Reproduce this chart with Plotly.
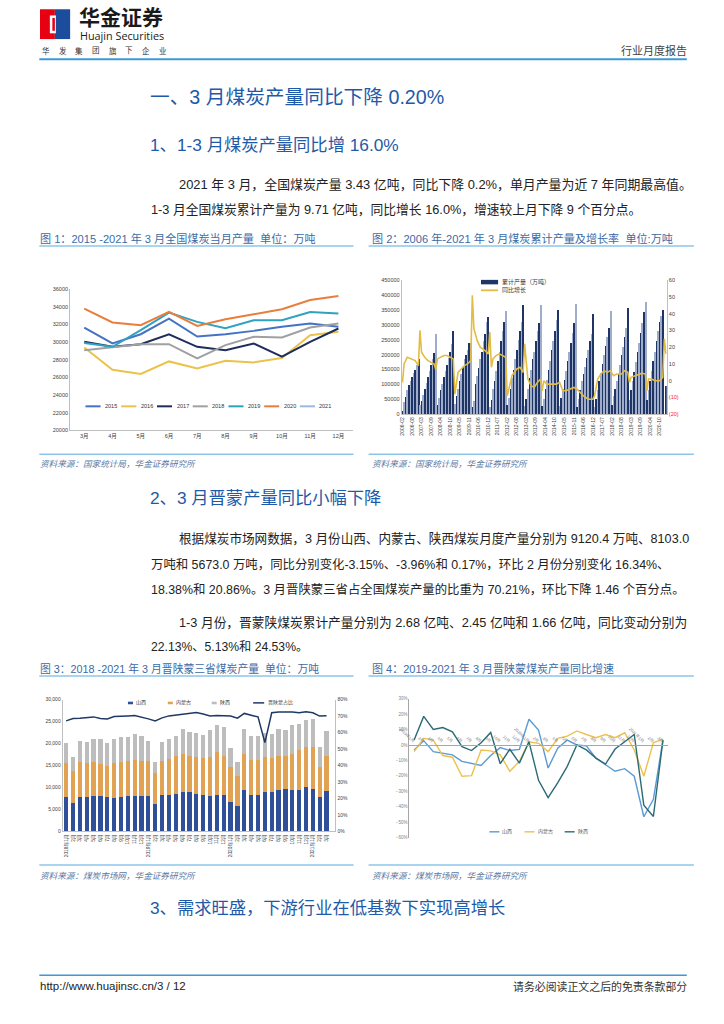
import plotly.graph_objects as go

W, H = 724, 1024
# page-pixel -> paper coordinates (small calibration for the capture geometry)
def fx(x): return (x - 11.8) / 0.981 / W
def fy(y): return 1 - (y - 2.0) / H

CJK = "Liberation Sans, Noto Sans CJK SC, sans-serif"
HEAD_BLUE = "#1F5AA8"
TITLE_BLUE = "#3B6BA5"
SRC_BLUE = "#5B7BA6"
RULE_BLUE = "#8CC4EA"

# ---------------- Chart 1 data: monthly national coal output (万吨)
months1 = ["3月", "4月", "5月", "6月", "7月", "8月", "9月", "10月", "11月", "12月"]
y2015 = [31660, 29850, 30900, 32680, 30640, 30900, 31280, 31740, 32110, 31740]
y2016 = [29400, 26870, 26380, 27810, 27020, 27890, 27700, 28190, 30790, 31170]
y2017 = [30040, 29470, 29770, 30900, 29470, 29090, 29850, 28340, 30040, 31550]
y2018 = [29090, 29400, 29770, 29770, 28150, 29660, 30600, 30530, 31660, 32110]
y2019 = [29890, 29470, 31360, 33360, 32300, 31580, 32490, 32490, 33430, 33250]
y2020 = [33810, 32230, 31920, 33430, 31850, 32600, 33170, 33740, 34790, 35250]
y2021 = [34300]
names1 = ["2015", "2016", "2017", "2018", "2019", "2020", "2021"]
colors1 = ["#4472C4", "#EBC24A", "#1F2D5C", "#A0A0A0", "#2FA2BF", "#EB7D3C", "#9DB7E0"]

# ---------------- Chart 2 data: cumulative output (万吨) and YoY growth (%)
cum_2006 = [12000, 40000, 58000, 80000, 98000, 112000, 125000, 140000, 150000, 165000, 185000]
cum_2007 = [30000, 45000, 65000, 85000, 105000, 125000, 145000, 165000, 185000, 205000, 270000]
cum_2008 = [30000, 55000, 80000, 100000, 125000, 145000, 165000, 190000, 210000, 235000, 278000]
cum_2009 = [35000, 60000, 85000, 110000, 135000, 160000, 185000, 200000, 215000, 240000, 240000]
cum_2010 = [25000, 45000, 100000, 130000, 155000, 185000, 210000, 245000, 270000, 310000, 325000]
cum_2011 = [25000, 48000, 85000, 110000, 145000, 180000, 210000, 245000, 280000, 310000, 345000]
cum_2012 = [30000, 55000, 85000, 120000, 150000, 185000, 215000, 250000, 280000, 310000, 365000]
cum_2013 = [28000, 52000, 85000, 120000, 150000, 185000, 210000, 245000, 278000, 305000, 368000]
cum_2014 = [28000, 52000, 85000, 115000, 150000, 180000, 215000, 245000, 280000, 315000, 350000]
cum_2015 = [28000, 55000, 85000, 115000, 145000, 180000, 210000, 240000, 272000, 305000, 370000]
cum_2016 = [25000, 50000, 80000, 110000, 135000, 160000, 190000, 215000, 245000, 270000, 335000]
cum_2017 = [25000, 50000, 80000, 110000, 140000, 170000, 200000, 230000, 258000, 290000, 345000]
cum_2018 = [30000, 60000, 85000, 110000, 135000, 165000, 200000, 225000, 260000, 290000, 355000]
cum_2019 = [48000, 80000, 110000, 142000, 175000, 208000, 240000, 272000, 305000, 342000, 375000]
cum_2020 = [48000, 80000, 110000, 145000, 180000, 210000, 245000, 280000, 310000, 330000, 348000]
cum_2021 = [None, 95000]
cum_years = [2006, 2007, 2008, 2009, 2010, 2011, 2012, 2013, 2014, 2015, 2016, 2017, 2018, 2019, 2020, 2021]
cum_lists = [cum_2006, cum_2007, cum_2008, cum_2009, cum_2010, cum_2011, cum_2012, cum_2013,
             cum_2014, cum_2015, cum_2016, cum_2017, cum_2018, cum_2019, cum_2020, cum_2021]

growth_x = ["2006-02", "2006-03", "2006-05", "2006-08", "2006-10", "2006-12",
            "2007-02", "2007-03", "2007-05", "2007-07", "2007-09", "2007-11", "2007-12",
            "2008-02", "2008-06", "2008-08", "2008-10", "2008-12",
            "2009-02", "2009-04", "2009-06", "2009-08", "2009-10", "2009-12",
            "2010-02", "2010-03", "2010-05", "2010-07", "2010-10", "2010-12",
            "2011-02", "2011-03", "2011-04", "2011-06", "2011-08", "2011-10", "2011-12",
            "2012-02", "2012-05", "2012-08", "2012-10", "2012-12",
            "2013-02", "2013-03", "2013-04", "2013-06", "2013-08", "2013-10", "2013-12",
            "2014-02", "2014-03", "2014-05", "2014-08", "2014-11",
            "2015-02", "2015-04", "2015-06", "2015-09", "2015-11",
            "2016-02", "2016-04", "2016-06", "2016-09", "2016-12",
            "2017-02", "2017-04", "2017-06", "2017-08", "2017-10", "2017-12",
            "2018-03", "2018-05", "2018-08", "2018-10", "2018-12",
            "2019-02", "2019-03", "2019-06", "2019-08", "2019-10", "2019-12",
            "2020-02", "2020-03", "2020-05", "2020-07", "2020-10", "2020-12",
            "2021-02", "2021-03"]
growth_y = [-1, 10, 14, 13, 12, 9,
            30, 17, 14, 12, 11, 10, 6.5,
            13, 15, 15, 14, 13,
            -8, 5, 7, 9, 10, 12,
            51, 31, 24, 20, 18, 16,
            29, 8, 13, 15, 16, 15, 14,
            -9, 3, 7, 8, 5,
            22, 11, 1, -3, -4, -1, 1,
            -6, 0, -2, -2, -2,
            -1, -6, -6, -5, -4,
            -5, -7, -9, -11, -11,
            -9, 1, 4, 6, 5, 6,
            3, 4, 4, 6, 5,
            -1, 2, 3, 4, 4.5, 4,
            -6, 1, 1, 0, 0, 2,
            25, 16]

# ---------------- Chart 3 data: Shanxi / Inner Mongolia / Shaanxi output (万吨), share (%)
months3 = ["2018-01", "2018-02", "2018-03", "2018-04", "2018-05", "2018-06", "2018-07", "2018-08",
           "2018-09", "2018-10", "2018-11", "2018-12", "2019-01", "2019-02", "2019-03", "2019-04",
           "2019-05", "2019-06", "2019-07", "2019-08", "2019-09", "2019-10", "2019-11", "2019-12",
           "2020-01", "2020-02", "2020-03", "2020-04", "2020-05", "2020-06", "2020-07", "2020-08",
           "2020-09", "2020-10", "2020-11", "2020-12", "2021-01", "2021-02", "2021-03"]
shanxi = [7760, 6480, 7760, 7760, 7990, 7990, 7760, 7610, 7840, 7990, 7990, 7990, 7990, 6330,
          8220, 8220, 8590, 8890, 8890, 8590, 8370, 7990, 8220, 8370, 6630, 5880, 9350, 8370,
          8220, 8890, 8890, 9350, 9650, 9500, 9500, 10030, 9720, 7760, 9120]
neimenggu = [7770, 7310, 8140, 7770, 7910, 7310, 7170, 8070, 7910, 8140, 8290, 8140, 8140, 6940,
             7910, 8210, 8600, 8670, 8370, 8300, 8290, 8900, 9950, 8890, 7920, 6780, 8290, 7910,
             8060, 8000, 7770, 7910, 7610, 8140, 9040, 9270, 9580, 6790, 8103]
shaanxi = [4520, 3100, 4750, 4750, 5130, 5660, 5120, 5350, 5810, 5430, 5960, 5660, 4520, 2630,
           4150, 4530, 4600, 5660, 5430, 5420, 5280, 6180, 6030, 6410, 4520, 3240, 5650, 5430,
           5430, 5420, 5500, 5960, 5810, 6560, 5880, 6030, 6180, 4750, 5673]
share3 = [67.1, 68.5, 68.7, 68.9, 69.5, 68.5, 68.3, 69.7, 70.1, 70.1, 70.3, 69.5, 68.3, 67.1,
          68.9, 70.1, 70.7, 71.4, 71.6, 72.2, 71.2, 70.1, 70.3, 70.1, 70.0, 68.7, 71.6, 70.5,
          69.5, 53.9, 72.0, 72.4, 72.6, 72.4, 72.0, 72.6, 72.0, 70.0, 70.2]

# ---------------- Chart 4 data: YoY growth (%)
months4 = months3[12:]
sx_yoy = [-3.2, 2.8, -4.3, -5.3, -6.4, -10.6, -11.7, -13.2, -6.8, -1.7, -3.6, -2.8, 16.6, 9.6,
          -14.9, -2.1, 3.2, 0, -0.6, -8.5, -12.8, -17, -15.3, -20.2, -46.4, -35.1, 3.2]
nm_yoy = [-4.3, 4.3, 3.2, -6.8, -7.9, -20.2, -19.8, -3.2, -3.8, -6.4, -17, -10.6, 2.1, 1.1,
          -4.3, 4.3, 5.7, 9.1, 6.8, 4.7, 6.8, 4.7, 7.9, -3.2, -20.2, 1.5, 3.6]
shx_yoy = [3.2, 18.5, 10, 11.3, 8.5, -1.1, -3.6, 1.5, 8.1, -12.1, -2.8, -11.7, 2.1, -22.8,
           -34, -24.5, -13.8, 0, -3.2, -8.5, -12.3, -2.6, 2.1, 6.8, -38.9, -46.2, 3.2]

fig = go.Figure()

# ---- chart 1 traces
for name, vals, col in zip(names1, [y2015, y2016, y2017, y2018, y2019, y2020, y2021], colors1):
    fig.add_trace(go.Scatter(x=months1[:len(vals)], y=vals, mode="lines", name=name,
                             line=dict(color=col, width=2), showlegend=False,
                             xaxis="x", yaxis="y"))

# ---- chart 2 traces
cats2, vals2 = [], []
for yr, lst in zip(cum_years, cum_lists):
    for k, v in enumerate(lst):
        cats2.append(f"{yr}-{k + 2:02d}")
        vals2.append(v)
bar_cols2 = ["#1F3566" if i % 2 == 0 else "#9FADCB" for i in range(len(cats2))]
fig.add_trace(go.Bar(x=cats2, y=vals2, marker=dict(color=bar_cols2, line_width=0), width=0.75,
                     name="累计产量（万吨）", showlegend=False, xaxis="x2", yaxis="y2"))
fig.add_trace(go.Scatter(x=growth_x, y=growth_y, mode="lines", name="同比增长",
                         line=dict(color="#E2BC45", width=1.6), showlegend=False,
                         xaxis="x2", yaxis="y3"))

# ---- chart 3 traces
ticks3 = [f"{m[:4]}年{int(m[5:])}月" if m.endswith("-01") else f"{int(m[5:])}月" for m in months3]
fig.add_trace(go.Bar(x=months3, y=shanxi, name="山西", marker=dict(color="#2F4F98", line_width=0),
                     width=0.62, showlegend=False, xaxis="x3", yaxis="y4"))
fig.add_trace(go.Bar(x=months3, y=neimenggu, name="内蒙古", marker=dict(color="#E2A253", line_width=0),
                     width=0.62, showlegend=False, xaxis="x3", yaxis="y4"))
fig.add_trace(go.Bar(x=months3, y=shaanxi, name="陕西", marker=dict(color="#BDBDBD", line_width=0),
                     width=0.62, showlegend=False, xaxis="x3", yaxis="y4"))
fig.add_trace(go.Scatter(x=months3, y=share3, mode="lines", name="晋陕蒙占比",
                         line=dict(color="#1F3864", width=1.5), showlegend=False,
                         xaxis="x3", yaxis="y5"))

# ---- chart 4 traces
ticks4 = [f"{m[:4]}年{int(m[5:])}月" if m.endswith("-01") else f"{int(m[5:])}月" for m in months4]
for name, vals, col in [("山西", sx_yoy, "#5B9BD5"), ("内蒙古", nm_yoy, "#EDC14F"), ("陕西", shx_yoy, "#2B6B74")]:
    fig.add_trace(go.Scatter(x=months4, y=vals, mode="lines", name=name,
                             line=dict(color=col, width=1.4), showlegend=False,
                             xaxis="x4", yaxis="y6"))

AX = dict(showgrid=False, zeroline=False, showline=True, linecolor="#BFBFBF", linewidth=1,
          ticks="", tickfont=dict(size=5.5, color="#404040", family=CJK))

d4 = [fy(841.7), fy(701.7)]
pos4 = d4[0] + (60 / 90) * (d4[1] - d4[0])

fig.update_layout(
    width=W, height=H, margin=dict(l=0, r=0, t=0, b=0),
    paper_bgcolor="white", plot_bgcolor="white", barmode="stack", showlegend=False,
    font=dict(family=CJK),
    xaxis=dict(AX, domain=[fx(70.7), fx(352)], anchor="y", type="category", range=[-0.5, 9.5]),
    yaxis=dict(AX, domain=[fy(431.7), fy(290)], anchor="x", range=[20000, 36000], dtick=2000,
               tickformat="d"),
    xaxis2=dict(AX, domain=[fx(401), fx(665)], anchor="y2", type="category",
                range=[-0.5, len(cats2) - 0.5], tickangle=-90, tickvals=cats2[::6],
                tickfont=dict(size=5, color="#404040")),
    yaxis2=dict(AX, domain=[fy(415.7), fy(280.7)], anchor="x2", range=[0, 450000], dtick=50000,
                tickformat="d"),
    yaxis3=dict(AX, overlaying="y2", side="right", anchor="x2", range=[-20, 60],
                tickvals=[-20, -10, 0, 10, 20, 30, 40, 50, 60],
                ticktext=['<span style="color:#FF2020">(20)</span>', '<span style="color:#FF2020">(10)</span>',
                          "0", "10", "20", "30", "40", "50", "60"]),
    xaxis3=dict(AX, domain=[fx(63.3), fx(335)], anchor="y4", type="category", range=[-0.5, 39.3],
                tickvals=months3, ticktext=ticks3, tickangle=-90,
                tickfont=dict(size=4.8, color="#404040")),
    yaxis4=dict(AX, domain=[fy(835.3), fy(702.7)], anchor="x3", range=[0, 30000], dtick=5000,
                tickformat=",", tickfont=dict(size=5, color="#404040")),
    yaxis5=dict(AX, overlaying="y4", side="right", anchor="x3", range=[0, 80], dtick=10,
                ticksuffix="%", tickfont=dict(size=5, color="#404040")),
    xaxis4=dict(AX, domain=[fx(408.6), fx(666)], anchor="free", position=pos4, side="top",
                type="category", range=[-0.5, 26.5], tickvals=months4, ticktext=ticks4,
                tickangle=45, linecolor="#A6A6A6", tickfont=dict(size=4, color="#7F7F7F")),
    yaxis6=dict(AX, domain=d4, anchor="x4", range=[-60, 30], dtick=10, ticksuffix="%",
                linecolor="#A6A6A6", tickfont=dict(size=4.5, color="#7F7F7F")),
)

shapes = []
def hline(x0, x1, y, color, width):
    shapes.append(dict(type="line", xref="paper", yref="paper", x0=fx(x0), x1=fx(x1),
                       y0=fy(y), y1=fy(y), line=dict(color=color, width=width)))
def rect(x0, x1, y0, y1, color):
    shapes.append(dict(type="rect", xref="paper", yref="paper", x0=fx(x0), x1=fx(x1),
                       y0=fy(y1), y1=fy(y0), fillcolor=color, line=dict(width=0)))

def txt(x, y, s, size, color="#222222", xanchor="left", family=CJK, bold=False, italic=False):
    fig.add_annotation(x=fx(x), y=fy(y), xref="paper", yref="paper", text=s, showarrow=False,
                       xanchor=xanchor, yanchor="middle", borderpad=0,
                       font=dict(size=size, color=color, family=family,
                                 weight="bold" if bold else "normal",
                                 style="italic" if italic else "normal"))

# ---- header
rect(40.7, 55.5, 8.3, 38.3, "#E60012")
rect(55.5, 70.7, 8.3, 38.3, "#1C4C9C")
rect(50.5, 56.5, 14.5, 32.5, "white")
rect(53.0, 55.5, 17.0, 30.0, "#E60012")
txt(79, 16.5, "华金证券", 21, color="#1A1A1A", bold=True)
txt(80, 34.5, "Huajin Securities", 10.8, color="#1A1A1A", family="Open Sans, Liberation Sans")
for i, ch in enumerate("华发集团旗下企业"):
    txt(41.7 + i * 16.6, 49.8, ch, 7.5, color="#333333")
txt(686, 49.5, "行业月度报告", 11, color="#444444", xanchor="right")
hline(40, 685, 58.5, "#3C9AD8", 2)

# ---- headings & paragraphs
txt(149, 97, "一、3 月煤炭产量同比下降 0.20%", 19.7, color=HEAD_BLUE)
txt(149, 145, "1、1-3 月煤炭产量同比增 16.0%", 17.3, color=HEAD_BLUE)
txt(178, 185, "2021 年 3 月，全国煤炭产量 3.43 亿吨，同比下降 0.2%，单月产量为近 7 年同期最高值。", 12.9)
txt(150, 210, "1-3 月全国煤炭累计产量为 9.71 亿吨，同比增长 16.0%，增速较上月下降 9 个百分点。", 12.75)

txt(40, 238.5, "图 1：2015 -2021 年 3 月全国煤炭当月产量  单位：万吨", 11.1, color=TITLE_BLUE)
txt(370, 238.5, "图 2：2006 年-2021 年 3 月煤炭累计产量及增长率  单位:万吨", 11.1, color=TITLE_BLUE)
hline(40, 353, 246.5, RULE_BLUE, 1.5)
hline(368, 692, 246.5, RULE_BLUE, 1.5)
hline(40, 353, 456, RULE_BLUE, 1.5)
hline(368, 692, 456, RULE_BLUE, 1.5)
txt(40, 466, "资料来源：国家统计局，华金证券研究所", 8.6, color=SRC_BLUE, italic=True)
txt(370, 466, "资料来源：国家统计局，华金证券研究所", 8.6, color=SRC_BLUE, italic=True)

txt(149, 500, "2、3 月晋蒙产量同比小幅下降", 17.3, color=HEAD_BLUE)
txt(178, 541, "根据煤炭市场网数据，3 月份山西、内蒙古、陕西煤炭月度产量分别为 9120.4 万吨、8103.0", 12.6)
txt(150, 567, "万吨和 5673.0 万吨，同比分别变化-3.15%、-3.96%和 0.17%，环比 2 月份分别变化 16.34%、", 12.4)
txt(150, 592, "18.38%和 20.86%。3 月晋陕蒙三省占全国煤炭产量的比重为 70.21%，环比下降 1.46 个百分点。", 12.4)
txt(178, 625, "1-3 月份，晋蒙陕煤炭累计产量分别为 2.68 亿吨、2.45 亿吨和 1.66 亿吨，同比变动分别为", 12.72)
txt(150, 650, "22.13%、5.13%和 24.53%。", 12.2)

txt(40, 671, "图 3：2018 -2021 年 3 月晋陕蒙三省煤炭产量  单位：万吨", 10.8, color=TITLE_BLUE)
txt(370, 671, "图 4：2019-2021 年 3 月晋陕蒙煤炭产量同比增速", 11.0, color=TITLE_BLUE)
hline(40, 353, 679, RULE_BLUE, 1.5)
hline(368, 692, 679, RULE_BLUE, 1.5)
hline(40, 353, 869, RULE_BLUE, 1.5)
hline(368, 692, 869, RULE_BLUE, 1.5)
txt(40, 880, "资料来源：煤炭市场网，华金证券研究所", 8.6, color=SRC_BLUE, italic=True)
txt(370, 880, "资料来源：煤炭市场网，华金证券研究所", 8.6, color=SRC_BLUE, italic=True)

txt(149, 912, "3、需求旺盛，下游行业在低基数下实现高增长", 17.3, color=HEAD_BLUE)

# ---- footer
hline(40, 685, 980, "#3C9AD8", 1.5)
txt(40, 991, "http://www.huajinsc.cn/3 / 12", 11.5, family="Liberation Sans, Arial")
txt(686, 991, "请务必阅读正文之后的免责条款部分", 10.9, color="#333333", xanchor="right")

# ---- legends (keys drawn as shapes, labels as text)
for i, (name, col) in enumerate(zip(names1, colors1)):
    x0 = 86 + 35.6 * i
    hline(x0, x0 + 15, 407.7, col, 2)
    txt(x0 + 18.5, 407.7, name, 5.5, color="#333333")

rect(480, 497, 280.5, 285, "#1F3566")
txt(500, 283, "累计产量（万吨）", 6, color="#333333")
hline(480, 497, 291, "#E2BC45", 1.8)
txt(500, 291, "同比增长", 6, color="#333333")

for x0, name, col in [(128.3, "山西", "#2F4F98"), (168, "内蒙古", "#E2A253"), (211.7, "陕西", "#BDBDBD")]:
    rect(x0, x0 + 5, 704.8, 707.4, col)
    txt(x0 + 7.5, 706, name, 5, color="#333333")
hline(253, 264, 706, "#1F3864", 1.5)
txt(266.5, 706, "晋陕蒙占比", 5, color="#333333")

for x0, name, col in [(488.3, "山西", "#5B9BD5"), (523.3, "内蒙古", "#EDC14F"), (563.3, "陕西", "#2B6B74")]:
    hline(x0, x0 + 10, 835.7, col, 1.4)
    txt(x0 + 12, 835.7, name, 5, color="#555555")

fig.update_layout(shapes=shapes)
post = ("document.documentElement.style.margin='0';document.documentElement.style.overflow='hidden';"
        "document.body.style.margin='0';document.body.style.padding='0';document.body.style.overflow='hidden';"
        "var gd=document.getElementById('{plot_id}');gd.style.position='absolute';gd.style.left='0px';gd.style.top='0px';")
fig.write_html("out.html", config={"displayModeBar": False}, post_script=post)
